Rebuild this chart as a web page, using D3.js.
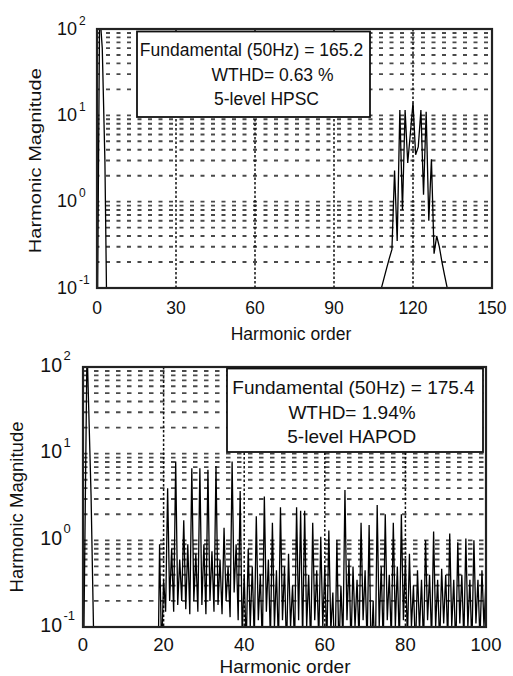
<!DOCTYPE html>
<html>
<head>
<meta charset="utf-8">
<script src="https://cdn.jsdelivr.net/npm/d3@7"></script>
<style>
  html, body { margin: 0; padding: 0; background: #fff; }
  svg { display: block; }
  text { font-family: "Liberation Sans", Arial, Helvetica, sans-serif; fill: #111; }
</style>
</head>
<body>
<svg id="chart" width="513" height="676"></svg>
<script>
// ---------------- DATA ----------------
// Top panel: 5-level HPSC spectrum, [harmonic order, magnitude]
const topSpectrum = [
  [0, 0.01], [1, 165.2], [2, 60], [3, 3.0], [4, 0.01],
  [107, 0.01], [108, 0.1], [109, 0.13], [110, 0.17], [111, 0.22], [112, 0.28],
  [113, 2.3], [114, 0.35], [115, 11.5], [116, 0.8], [117, 11.5], [118, 2.8],
  [119, 6.2], [120, 14], [121, 3.5], [122, 4.3], [123, 11.5], [124, 1.2],
  [125, 11], [126, 0.6], [127, 3.1], [128, 0.25], [129, 0.4], [130, 0.3],
  [131, 0.2], [132, 0.14], [133, 0.1], [134, 0.01], [150, 0.01]
];

// Bottom panel: 5-level HAPOD spectrum, [harmonic order, magnitude]
const bottomSpectrum = [
  [0, 0.01], [1, 175.4], [2, 3.3], [3, 0.01], [18.5, 0.01],
  [19, 0.9], [19.5, 0.05], [20, 0.35], [20.5, 0.15], [21, 4.0], [21.5, 0.2], [22, 0.8], [22.5, 0.15],
  [23, 8.1], [23.5, 0.18], [24, 0.6], [24.5, 0.2], [25, 1.7], [25.5, 0.16], [26, 0.9], [26.5, 0.14],
  [27, 6.8], [27.5, 0.2], [28, 0.7], [28.5, 0.15], [29, 6.8], [29.5, 0.18], [30, 0.9], [30.5, 0.14],
  [31, 6.5], [31.5, 0.2], [32, 0.75], [32.5, 0.15], [33, 7.2], [33.5, 0.18], [34, 0.6], [34.5, 0.14],
  [35, 1.4], [35.5, 0.2], [36, 0.5], [36.5, 0.13], [37, 8.1], [37.5, 0.25], [38, 0.9], [38.5, 0.12],
  [39, 3.7], [39.5, 0.08], [40, 0.4], [40.5, 0.06], [41, 0.8], [41.5, 0.1], [42, 0.5], [42.5, 0.07],
  [43, 1.9], [43.5, 0.12], [44, 0.4], [44.5, 0.06], [45, 3.2], [45.5, 0.15], [46, 0.6], [46.5, 0.07],
  [47, 1.6], [47.5, 0.1], [48, 0.45], [48.5, 0.06], [49, 2.4], [49.5, 0.12], [50, 0.5], [50.5, 0.05],
  [51, 0.7], [51.5, 0.1], [52, 0.3], [52.5, 0.06], [53, 2.4], [53.5, 0.12], [54, 2.2], [54.5, 0.07],
  [55, 2.2], [55.5, 0.1], [56, 0.4], [56.5, 0.06], [57, 1.6], [57.5, 0.12], [58, 0.45], [58.5, 0.07],
  [59, 1.1], [59.5, 0.1], [60, 0.5], [60.5, 0.06], [61, 1.3], [61.5, 0.09], [62, 0.25], [62.5, 0.03],
  [63, 1.0], [63.5, 0.05], [64, 0.3], [64.5, 0.07], [65, 3.8], [65.5, 0.12], [66, 0.6], [66.5, 0.06],
  [67, 0.5], [67.5, 0.1], [68, 0.35], [68.5, 0.07], [69, 1.6], [69.5, 0.12], [70, 0.45], [70.5, 0.06],
  [71, 1.5], [71.5, 0.04], [72, 0.2], [72.5, 0.03], [73, 2.55], [73.5, 0.1], [74, 0.5], [74.5, 0.06],
  [75, 2.0], [75.5, 0.12], [76, 0.4], [76.5, 0.07], [77, 1.6], [77.5, 0.1], [78, 0.5], [78.5, 0.06],
  [79, 2.0], [79.5, 0.12], [80, 0.6], [80.5, 0.07], [81, 0.7], [81.5, 0.1], [82, 0.3], [82.5, 0.05],
  [83, 0.45], [83.5, 0.09], [84, 0.35], [84.5, 0.06], [85, 1.0], [85.5, 0.12], [86, 0.4], [86.5, 0.07],
  [87, 1.26], [87.5, 0.1], [88, 0.35], [88.5, 0.06], [89, 0.47], [89.5, 0.11], [90, 0.4], [90.5, 0.07],
  [91, 1.2], [91.5, 0.1], [92, 0.35], [92.5, 0.05], [93, 0.95], [93.5, 0.11], [94, 0.4], [94.5, 0.07],
  [95, 1.05], [95.5, 0.1], [96, 0.35], [96.5, 0.06], [97, 1.0], [97.5, 0.11], [98, 0.35], [98.5, 0.07],
  [99, 0.45], [99.5, 0.1], [100, 0.35]
];

const xTicksTop = [0, 30, 60, 90, 120, 150];
const xTicksBottom = [0, 20, 40, 60, 80, 100];
const yTickValues = [0.1, 1, 10, 100];
const yTickExponents = ["-1", "0", "1", "2"];
const yMinorMantissas = [2, 3, 4, 5, 6, 7, 8, 9];
const yDecades = [0.1, 1, 10];

const topBoxLines = ["Fundamental (50Hz) = 165.2", "WTHD= 0.63 %", "5-level HPSC"];
const bottomBoxLines = ["Fundamental (50Hz) = 175.4", "WTHD= 1.94%", "5-level HAPOD"];
const xTitle = "Harmonic order";
const yTitle = "Harmonic Magnitude";

// ---------------- LAYOUT ----------------
const svg = d3.select("#chart");
svg.append("rect").attr("width", 513).attr("height", 676).attr("fill", "#fff");

const panels = [
  {
    id: "top", left: 97, right: 492, top: 29, bottom: 288, xMax: 150,
    xTicks: xTicksTop, data: topSpectrum,
    dash: "4,6.5", dashStart: -1.5,
    tickFont: 17.5, tickBaseline: 314, titleFont: 17.5, titleX: 291, titleY: 340,
    yLabEnd: 77, yLabFont: 18, yLabDy: 5.5, supFont: 12, supDy: -4.5, supGap: 2,
    yTitleX: 35.5, yTitleY: 160.7, yTitleLen: 185, yTitleFont: 17,
    box: { x: 137, y: 31.5, w: 233, h: 85.5 }, boxLines: topBoxLines,
    boxFont: 17.5, boxLineX: [251.5, 272.5, 266.5], boxLineY: [56, 81, 105]
  },
  {
    id: "bottom", left: 83, right: 486, top: 367, bottom: 627, xMax: 100,
    xTicks: xTicksBottom, data: bottomSpectrum,
    dash: "4.5,6.5", dashStart: 0,
    tickFont: 18.5, tickBaseline: 651, titleFont: 19, titleX: 285, titleY: 673,
    yLabEnd: 62, yLabFont: 19.5, yLabDy: 4.5, supFont: 13, supDy: -7, supGap: 1.5,
    yTitleX: 16.5, yTitleY: 507, yTitleLen: 171, yTitleFont: 18,
    box: { x: 227, y: 368.5, w: 256, h: 83.5 }, boxLines: bottomBoxLines,
    boxFont: 19, boxLineX: [353.5, 352, 351.7], boxLineY: [394, 419, 443]
  }
];

panels.forEach(p => {
  const x = d3.scaleLinear().domain([0, p.xMax]).range([p.left, p.right]);
  const y = d3.scaleLog().domain([0.1, 100]).range([p.bottom, p.top]);
  const g = svg.append("g");

  const clipId = "clip-" + p.id;
  svg.append("defs").append("clipPath").attr("id", clipId)
    .append("rect").attr("x", p.left).attr("y", p.top)
    .attr("width", p.right - p.left).attr("height", p.bottom - p.top);

  // horizontal grid (major + minor)
  const hGrid = [];
  yDecades.forEach(d => {
    yMinorMantissas.forEach(m => hGrid.push(m * d));
    if (d > 0.1) hGrid.push(d);
  });
  g.append("g").selectAll("line").data(hGrid).join("line")
    .attr("x1", p.left + p.dashStart).attr("x2", p.right)
    .attr("y1", d => y(d)).attr("y2", d => y(d))
    .attr("stroke", "#4a4a4a").attr("stroke-width", 1.9)
    .attr("stroke-dasharray", p.dash)
    .attr("clip-path", `url(#${clipId})`);

  // vertical grid at x ticks
  g.append("g").selectAll("line")
    .data(p.xTicks.filter(t => t > 0 && t < p.xMax)).join("line")
    .attr("x1", d => x(d)).attr("x2", d => x(d))
    .attr("y1", p.top).attr("y2", p.bottom)
    .attr("stroke", "#111").attr("stroke-width", 1.5)
    .attr("stroke-dasharray", "2.5,2");

  // spectrum line
  const line = d3.line().x(d => x(d[0])).y(d => y(d[1]));
  g.append("path").datum(p.data)
    .attr("d", line)
    .attr("fill", "none").attr("stroke", "#000").attr("stroke-width", 1.3)
    .attr("stroke-linejoin", "miter")
    .attr("clip-path", `url(#${clipId})`);

  // axes frame
  g.append("rect").attr("x", p.left).attr("y", p.top)
    .attr("width", p.right - p.left).attr("height", p.bottom - p.top)
    .attr("fill", "none").attr("stroke", "#222").attr("stroke-width", 2.2);

  // x tick labels
  g.append("g").selectAll("text").data(p.xTicks).join("text")
    .attr("x", d => x(d)).attr("y", p.tickBaseline)
    .attr("text-anchor", "middle").attr("font-size", p.tickFont)
    .text(d => d);

  // y tick labels 10^n
  const yl = g.append("g").selectAll("g").data(yTickValues).join("g");
  yl.append("text")
    .attr("x", p.yLabEnd).attr("y", d => y(d) + p.yLabDy)
    .attr("text-anchor", "end").attr("font-size", p.yLabFont)
    .text("10");
  yl.append("text")
    .attr("x", p.yLabEnd + p.supGap).attr("y", d => y(d) + p.supDy)
    .attr("text-anchor", "start").attr("font-size", p.supFont)
    .text((d, i) => yTickExponents[i]);

  // axis titles
  g.append("text").attr("x", p.titleX).attr("y", p.titleY)
    .attr("text-anchor", "middle").attr("font-size", p.titleFont)
    .text(xTitle);
  g.append("text")
    .attr("transform", `translate(${p.yTitleX + 0.35 * p.yTitleFont},${p.yTitleY}) rotate(-90)`)
    .attr("text-anchor", "middle").attr("font-size", p.yTitleFont)
    .attr("textLength", p.yTitleLen).attr("lengthAdjust", "spacingAndGlyphs")
    .text(yTitle);

  // annotation box
  g.append("rect").attr("x", p.box.x).attr("y", p.box.y)
    .attr("width", p.box.w).attr("height", p.box.h)
    .attr("fill", "#fff").attr("stroke", "#111").attr("stroke-width", 1.8);
  g.append("g").selectAll("text").data(p.boxLines).join("text")
    .attr("x", (d, i) => p.boxLineX[i]).attr("y", (d, i) => p.boxLineY[i])
    .attr("text-anchor", "middle").attr("font-size", p.boxFont)
    .text(d => d);
});
</script>
</body>
</html>
